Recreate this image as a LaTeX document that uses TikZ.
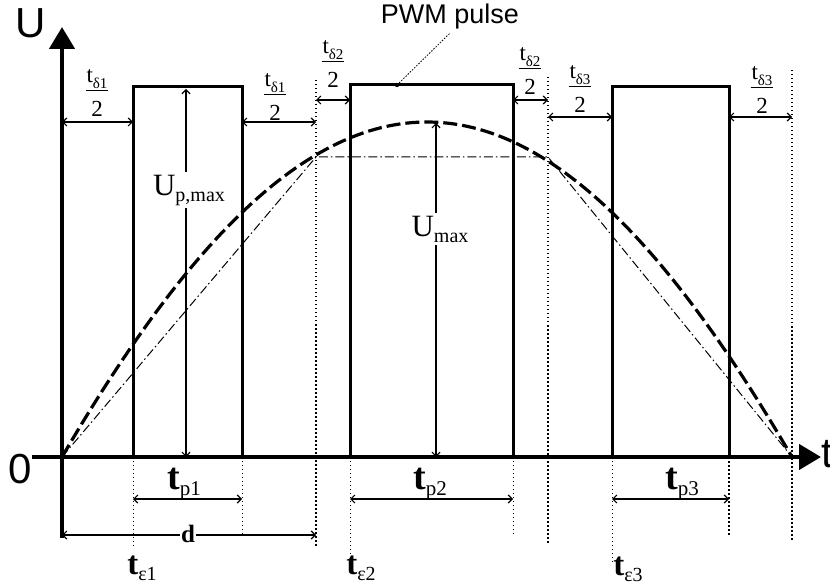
\documentclass[tikz,border=0pt]{standalone}
\usepackage{fontspec}
\setmainfont{Liberation Serif}
\setsansfont{Liberation Sans}
\usetikzlibrary{arrows.meta,positioning,calc}
\newcommand{\fsz}[1]{\fontsize{#1}{#1}\selectfont}
\newcommand{\lowsub}[2]{\raisebox{-6pt}{\fsz{#1}#2}}
\newcommand{\halfgap}[1]{{\setlength{\tabcolsep}{1pt}%
  \begin{tabular}{c}t\lowsub{15}{#1}\\[1pt]\hline\rule{0pt}{26pt}2\end{tabular}}}

\begin{document}
\begin{tikzpicture}[x=1pt,y=-1pt,
    axis/.style={line width=4.5pt, -{Triangle[length=22pt,width=25pt]}},
    pulse/.style={line width=3pt},
    dimline/.style={line width=1.2pt,
      {Straight Barb[length=4pt,width=8pt]}-{Straight Barb[length=4pt,width=8pt]}},
    guide/.style={line width=1.5pt, dash pattern=on 1.5pt off 2.5pt},
    thinguide/.style={line width=1pt, dash pattern=on 1pt off 3pt},
    sine/.style={line width=3.2pt, dash pattern=on 14pt off 5pt},
    chord/.style={line width=1pt, dash pattern=on 9pt off 3pt on 1.5pt off 3pt},
    fraclbl/.style={inner sep=0pt, font=\fsz{23}},
    bigt/.style={inner sep=1pt, font=\fsz{38}\bfseries}]
  \useasboundingbox (0,0) rectangle (830,585);
  % key points on the time axis
  \coordinate (O) at (62,457);
  \coordinate (e1) at (133,457);
  \coordinate (p1e) at (242,457);
  \coordinate (g1) at (316,457);
  \coordinate (e2) at (350,457);
  \coordinate (p2e) at (513,457);
  \coordinate (g2) at (548,457);
  \coordinate (e3) at (612,457);
  \coordinate (p3e) at (729,457);
  \coordinate (g3) at (792,457);
  % heights of the dimension lines
  \coordinate (lvA) at (0,122);
  \coordinate (lvB) at (0,100);
  \coordinate (lvC) at (0,117);
  \coordinate (lvP) at (0,499);
  \coordinate (lvD) at (0,535);

  % dotted guide lines
  \draw[guide] (316,80) -- (316,547);
  \draw[guide] (548,77) -- (548,545);
  \draw[guide] (792,70) -- (792,540);
  \draw[thinguide] (e1) -- (133,547);
  \draw[thinguide] (p1e) -- (242,537);
  \draw[thinguide] (e2) -- (350,560);
  \draw[thinguide] (p2e) -- (513,537);
  \draw[thinguide] (e3) -- (612,565);
  \draw[guide] (p3e) -- (729,537);

  % pulses
  \draw[pulse] (e1) -- (133,87) -- (242,87) -- (p1e);
  \draw[pulse] (e2) -- (350,85) -- (513,85) -- (p2e);
  \draw[pulse] (e3) -- (612,87) -- (729,87) -- (p3e);

  % sine-like wave and its chords
  \draw[sine] plot[domain=62:792, samples=120]
    (\x, {457-335*(0.7*(1-((\x-427)/365)^2)+0.3*sin(0.246575*(\x-62)))});
  \draw[chord] (O) -- (316,157) -- (548,157) -- (g3);

  % axes
  \draw[axis] (62,538) -- (62,27);
  \draw[axis] (32,457) -- (821,457);
  \node[font=\sffamily\fsz{42}] (ulbl) at (31,23) {U};
  \node[font=\sffamily\fsz{42}] (zero) at (20,469) {0};
  \node[font=\sffamily\fsz{42}, anchor=west, inner sep=0pt] (tlbl) at (821,454) {t};

  % half gaps above the pulses
  \draw[dimline] (O |- lvA) -- (e1 |- lvA);
  \draw[dimline] (p1e |- lvA) -- (g1 |- lvA);
  \draw[dimline] (g1 |- lvB) -- (e2 |- lvB);
  \draw[dimline] (p2e |- lvB) -- (g2 |- lvB);
  \draw[dimline] (g2 |- lvC) -- (e3 |- lvC);
  \draw[dimline] (p3e |- lvC) -- (g3 |- lvC);
  \node[fraclbl] (hg1) at (97,95) {\halfgap{δ1}};
  \node[fraclbl] (hg2) at (275,99) {\halfgap{δ1}};
  \node[fraclbl] (hg3) at (333,66) {\halfgap{δ2}};
  \node[fraclbl] (hg4) at (530,73) {\halfgap{δ2}};
  \node[fraclbl] (hg5) at (580,91) {\halfgap{δ3}};
  \node[fraclbl] (hg6) at (762,92) {\halfgap{δ3}};

  % amplitudes
  \draw[dimline] (186,89) -- (186,457);
  \node[fill=white, inner sep=3pt, font=\fsz{31}] (upmax) at (189,190) {U\lowsub{20}{p,max}};
  \draw[dimline] (436,123) -- (436,457);
  \node[fill=white, inner sep=3pt, font=\fsz{31}] (umax) at (440,229) {U\lowsub{20}{max}};

  % PWM pulse callout
  \node[font=\sffamily\fsz{27}] (pwm) at (450,17) {PWM pulse};
  \coordinate (pwmdot) at (397,85);
  \fill (pwmdot) circle (2.2);
  \draw[line width=0.8pt, dash pattern=on 1.5pt off 1.5pt] (pwmdot) -- (pwm.south);

  % pulse widths and period
  \draw[dimline] (e1 |- lvP) -- (p1e |- lvP);
  \draw[dimline] (e2 |- lvP) -- (p2e |- lvP);
  \draw[dimline] (e3 |- lvP) -- (p3e |- lvP);
  \node[bigt] (tp1) at (184,484) {t\lowsub{21}{\mdseries p1}};
  \node[bigt] (tp2) at (430,484) {t\lowsub{21}{\mdseries p2}};
  \node[bigt] (tp3) at (682,484) {t\lowsub{21}{\mdseries p3}};
  \draw[dimline] (O |- lvD) -- (g1 |- lvD);
  \node[fill=white, inner sep=1pt, font=\fsz{25}\bfseries] (dlbl) at (188,534) {d};

  % pulse start times
  \node[bigt, font=\fsz{33}\bfseries] (te1) at (142,568) {t\lowsub{20}{\mdseries ε1}};
  \node[bigt, font=\fsz{33}\bfseries] (te2) at (361,568) {t\lowsub{20}{\mdseries ε2}};
  \node[bigt, font=\fsz{33}\bfseries] (te3) at (628,569) {t\lowsub{20}{\mdseries ε3}};
\end{tikzpicture}
\end{document}
